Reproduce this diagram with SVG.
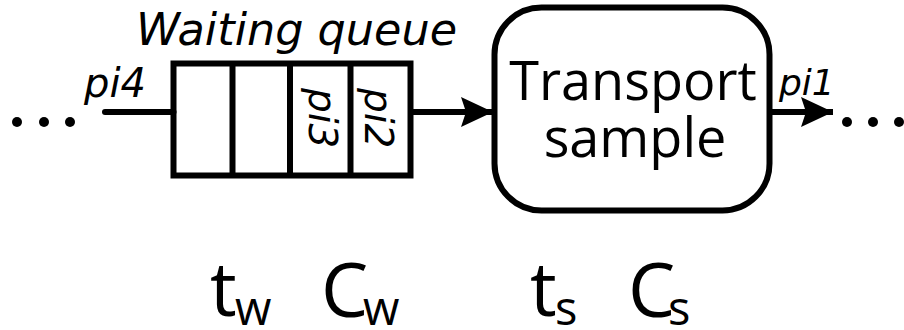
<svg xmlns="http://www.w3.org/2000/svg" width="904" height="330" viewBox="0 0 904 330">
  <style>
    .stroke { fill: none; stroke: #000; stroke-width: 6; }
    .lbl { font-family: "Open Sans", "DejaVu Sans", sans-serif; fill: #000; }
    .it { font-family: "DejaVu Sans", "Open Sans", sans-serif; font-style: oblique; }
    .sym { font-size: 75px; }
    .sub { font-size: 47px; }
    .dot { fill: #000; }
  </style>
  <defs>
    <marker id="arrow" viewBox="0 0 32 32" refX="32" refY="16" markerWidth="32" markerHeight="32" markerUnits="userSpaceOnUse" orient="auto">
      <path d="M32,16 L0,1 L5,16 L0,31 Z" fill="#000"/>
    </marker>
  </defs>

  <!-- ellipsis before the queue -->
  <g id="dots-in">
    <circle class="dot" cx="17" cy="122" r="5"/>
    <circle class="dot" cx="44" cy="122" r="5"/>
    <circle class="dot" cx="70" cy="122" r="5"/>
  </g>

  <!-- waiting queue -->
  <g id="queue">
    <text class="lbl it" x="136" y="45" font-size="44.5">Waiting queue</text>
    <rect class="stroke" x="173.5" y="63.5" width="237" height="112"/>
    <line class="stroke" x1="232.5" y1="63.5" x2="232.5" y2="175.5"/>
    <line class="stroke" x1="290" y1="63.5" x2="290" y2="175.5"/>
    <line class="stroke" x1="350.5" y1="63.5" x2="350.5" y2="175.5"/>
    <text class="lbl it" font-size="39" transform="translate(309 88) rotate(90)">pi3</text>
    <text class="lbl it" font-size="39" transform="translate(365 88) rotate(90)">pi2</text>
  </g>

  <!-- transport sample -->
  <g id="transport">
    <rect class="stroke" x="494.5" y="7.5" width="275" height="203" rx="47" ry="47"/>
    <text class="lbl" x="633" y="100" font-size="54" text-anchor="middle">Transport</text>
    <text class="lbl" x="635" y="157" font-size="54" text-anchor="middle">sample</text>
  </g>

  <!-- ellipsis after the transport -->
  <g id="dots-out">
    <circle class="dot" cx="847" cy="122" r="5"/>
    <circle class="dot" cx="873" cy="122" r="5"/>
    <circle class="dot" cx="899" cy="122" r="5"/>
  </g>

  <!-- connectors -->
  <g id="connectors">
    <line class="stroke" x1="105" y1="112" x2="173.5" y2="112" stroke-linecap="round"/>
    <text class="lbl it" x="84" y="97" font-size="40">pi4</text>
    <line class="stroke" x1="410.5" y1="112" x2="493" y2="112" marker-end="url(#arrow)"/>
    <line class="stroke" x1="769.5" y1="112" x2="833" y2="112" marker-end="url(#arrow)"/>
    <text class="lbl it" x="779" y="95" font-size="36">pi1</text>
  </g>

  <!-- time and cost symbols, each with its subscript -->
  <g id="symbols">
    <text class="lbl sym" x="210" y="316">t<tspan class="sub" x="235" dy="9">w</tspan></text>
    <text class="lbl sym" x="321" y="317">C<tspan class="sub" x="363" dy="8">w</tspan></text>
    <text class="lbl sym" x="530" y="316">t<tspan class="sub" x="555" dy="9">s</tspan></text>
    <text class="lbl sym" x="628" y="317">C<tspan class="sub" x="668" dy="8">s</tspan></text>
  </g>
</svg>
